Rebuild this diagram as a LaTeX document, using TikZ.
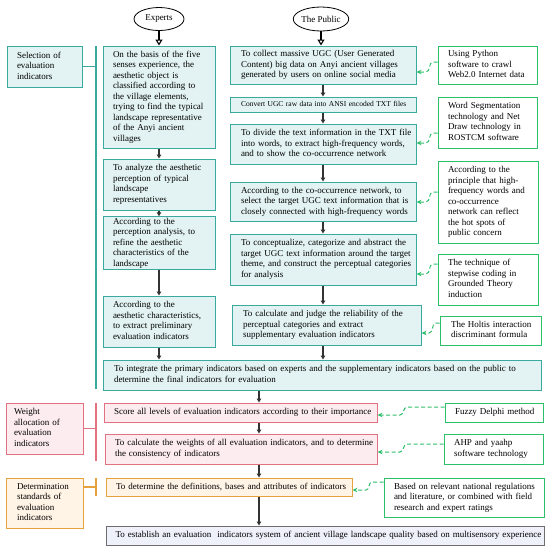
\documentclass[tikz,border=0pt]{standalone}
\usepackage{fontspec}
\setmainfont{Liberation Serif}
\usetikzlibrary{arrows.meta,shapes.geometric}
\definecolor{tealD}{HTML}{3AA99E}
\definecolor{tealF}{HTML}{E3F3F3}
\definecolor{greenN}{HTML}{2EBF6A}
\definecolor{pinkD}{HTML}{E07282}
\definecolor{pinkF}{HTML}{FDECEF}
\definecolor{orangeD}{HTML}{E6A23C}
\definecolor{orangeF}{HTML}{FFF4E6}
\definecolor{grayD}{HTML}{6E6E6E}
\definecolor{lavF}{HTML}{EEF0FA}
\definecolor{arrowC}{HTML}{333333}
\newcommand\mybox[8]{%
  \pgfmathsetmacro\mywd{#5-#3}%
  \pgfmathsetmacro\myht{#6-#4}%
  \node[#1, text width=\mywd pt, minimum height=\myht pt] (#2) at ({(#3+#5)/2},{(#4+#6)/2}) {\hspace*{#7pt}\begin{tabular}{@{}l@{}}#8\end{tabular}};}
\begin{document}
\begin{tikzpicture}[x=1pt,y=-1pt,
  bfont/.style={font=\fontsize{9}{10.5}\selectfont},
  basebox/.style={bfont, align=left, inner xsep=0pt, inner ysep=0pt, line width=1pt},
  tealbox/.style={basebox, draw=tealD, fill=tealF},
  notebox/.style={basebox, draw=greenN, fill=white},
  pinkbox/.style={basebox, draw=pinkD, fill=pinkF},
  orangebox/.style={basebox, draw=orangeD, fill=orangeF},
  finalbox/.style={basebox, draw=grayD, fill=lavF},
  oval/.style={ellipse, draw=black, line width=0.8pt, fill=white, bfont, inner sep=0pt},
  arr/.style={draw=arrowC, line width=1.1pt, -{Triangle[length=4pt,width=4.5pt]}},
  openarr/.style={draw=black, line width=1.1pt, -{Triangle[open,length=6pt,width=7pt,fill=white]}},
  gdash/.style={draw=greenN, line width=1pt, dash pattern=on 4pt off 2.5pt, -{Stealth[length=5pt,width=4.5pt]}},
  tealline/.style={draw=tealD, line width=1.1pt},
  pinkline/.style={draw=pinkD, line width=1.1pt},
  orangeline/.style={draw=orangeD, line width=1.1pt}
]
\useasboundingbox (0,0) rectangle (546,550);

% ellipses
\node[oval, minimum width=50pt, minimum height=23pt] (ex) at (159,19) {Experts};
\node[oval, minimum width=52pt, minimum height=24pt] (pub) at (321,19) {The Public};

% left labels
\mybox{tealbox}{L1}{7}{46}{82}{87}{10}{Selection of\\evaluation\\indicators}
\mybox{pinkbox}{L2}{6}{403}{83}{454}{8}{Weight\\allocation of\\evaluation\\indicators}
\mybox{orangebox}{L3}{6}{478}{83}{528}{11}{Determination\\standards of\\evaluation\\indicators}

% experts column
\mybox{tealbox}{B1}{103}{46}{215}{148}{10}{On the basis of the five\\senses experience, the\\aesthetic object is\\classified according to\\the village elements,\\trying to find the typical\\landscape representative\\of the Anyi ancient\\villages}
\mybox{tealbox}{B2}{103}{159}{215}{210}{10}{To analyze the aesthetic\\perception of typical\\landscape\\representatives}
\mybox{tealbox}{B3}{103}{217}{215}{269}{10}{According to the\\perception analysis, to\\refine the aesthetic\\characteristics of the\\landscape}
\mybox{tealbox}{B4}{103}{296}{215}{347}{10}{According to the\\aesthetic characteristics,\\to extract preliminary\\evaluation indicators}

% public column
\mybox{tealbox}{P1}{230}{46}{416}{84}{11}{To collect massive UGC (User Generated\\Content) big data on Anyi ancient villages\\generated by users on online social media}
\mybox{tealbox, font=\fontsize{7.5}{9}\selectfont}{P2}{230}{97}{416}{112}{11}{Convert UGC raw data into ANSI encoded TXT files}
\mybox{tealbox}{P3}{230}{124}{416}{164}{11}{To divide the text information in the TXT file\\into words, to extract high-frequency words,\\and to show the co-occurrence network}
\mybox{tealbox}{P4}{230}{182}{416}{221}{11}{According to the co-occurrence network, to\\select the target UGC text information that is\\closely connected with high-frequency words}
\mybox{tealbox}{P5}{230}{234}{416}{285}{11}{To conceptualize, categorize and abstract the\\target UGC text information around the target\\theme, and construct the perceptual categories\\for analysis}
\mybox{tealbox}{P6}{232}{305}{421}{345}{11}{To calculate and judge the reliability of the\\perceptual categories and extract\\supplementary evaluation indicators}

% notes
\mybox{notebox}{N1}{438}{46}{537}{84}{10}{Using Python\\software to crawl\\Web2.0 Internet data}
\mybox{notebox}{N2}{438}{97}{537}{148}{10}{Word Segmentation\\technology and Net\\Draw technology in\\ROSTCM software}
\mybox{notebox}{N3}{438}{161}{538}{243}{10}{According to the\\principle that high-\\frequency words and\\co-occurrence\\network can reflect\\the hot spots of\\public concern}
\mybox{notebox}{N4}{438}{254}{538}{305}{10}{The technique of\\stepwise coding in\\Grounded Theory\\induction}
\mybox{notebox}{N5}{440}{316}{541}{345}{11}{The Holtis interaction\\discriminant formula}

% integrate
\mybox{tealbox}{INT}{103}{360}{541}{390}{11}{To integrate the primary indicators based on experts and the supplementary indicators based on the public to\\determine the final indicators for evaluation}

% weight section
\mybox{pinkbox}{SC}{104}{403}{377}{422}{10}{Score all levels of evaluation indicators according to their importance}
\mybox{pinkbox}{WT}{105}{434}{377}{464}{10}{To calculate the weights of all evaluation indicators, and to determine\\the consistency of indicators}
\mybox{notebox}{FZ}{445}{403}{543}{422}{10}{Fuzzy Delphi method}
\mybox{notebox}{AHP}{444}{434}{543}{464}{10}{AHP and yaahp\\software technology}

% determination section
\mybox{orangebox}{DT}{106}{478}{352}{496}{10}{To determine the definitions, bases and attributes of indicators}
\mybox{notebox}{BS}{384}{478}{544}{517}{10}{Based on relevant national regulations\\and literature, or combined with field\\research and expert ratings}

% final
\mybox{finalbox}{FN}{106}{526}{544}{545}{9.5}{To establish an evaluation~ indicators system of ancient village landscape quality based on multisensory experience}

% bars and label connectors
\coordinate (tb1) at (96,46);
\coordinate (tb2) at (96,389);
\coordinate (pb1) at (96,403);
\coordinate (pb2) at (96,461);
\coordinate (ob1) at (96,478);
\coordinate (ob2) at (96,496);
\coordinate (oc) at (96,487);
\draw[tealline] (tb1) -- (tb2);
\draw[tealline] (L1.east) -- (L1.east -| tb1);
\draw[pinkline] (pb1) -- (pb2);
\draw[pinkline] (L2.east) -- (L2.east -| pb1);
\draw[orangeline] (ob1) -- (ob2);
\draw[orangeline] (L3.east |- oc) -- (oc);

% ellipse arrows
\draw[openarr] (ex.south) -- (ex.south |- B1.north);
\draw[openarr] (pub.south) -- (pub.south |- P1.north);

% experts arrows
\draw[arr] (B1.south) -- (B2.north);
\draw[arr] (B2.south) -- (B3.north);
\draw[arr] (B3.south) -- (B4.north);
\draw[arr] (B4.south) -- (B4.south |- INT.north);

% public arrows
\draw[arr] (P1.south) -- (P2.north);
\draw[arr] (P2.south) -- (P3.north);
\draw[arr] (P3.south) -- (P4.north);
\draw[arr] (P4.south) -- (P5.north);
\draw[arr] (P5.south) -- (P5.south |- P6.north);
\draw[arr] (P5.south |- P6.south) -- (P5.south |- INT.north);

% lower arrows
\coordinate (ax) at (259,0);
\draw[arr] (ax |- INT.south) -- (ax |- SC.north);
\draw[arr] (ax |- SC.south) -- (ax |- WT.north);
\draw[arr] (ax |- WT.south) -- (ax |- DT.north);
\draw[arr] (ax |- DT.south) -- (ax |- FN.north);

% dashed note connectors
\draw[gdash] (N1.west |- 0,62) -- (433,62) to[out=180,in=0] (426,72) -- (P1.east |- 0,72);
\draw[gdash] (N2.west |- 0,133) -- (433,133) to[out=180,in=0] (426,143) -- (P3.east |- 0,143);
\draw[gdash] (N3.west |- 0,192) -- (433,192) to[out=180,in=0] (426,202) -- (P4.east |- 0,202);
\draw[gdash] (N4.west |- 0,264) -- (433,264) to[out=180,in=0] (426,274) -- (P5.east |- 0,274);
\draw[gdash] (N5.west |- 0,323) -- (436,323) to[out=180,in=0] (429,333) -- (P6.east |- 0,333);
\draw[gdash] (FZ.west |- 0,407) -- (407,407) to[out=180,in=0] (400,415) -- (SC.east |- 0,415);
\draw[gdash] (AHP.west |- 0,444) -- (407,444) to[out=180,in=0] (400,452) -- (WT.east |- 0,452);
\draw[gdash] (BS.west |- 0,482) -- (372,482) to[out=180,in=0] (366,490) -- (DT.east |- 0,490);
\end{tikzpicture}
\end{document}
